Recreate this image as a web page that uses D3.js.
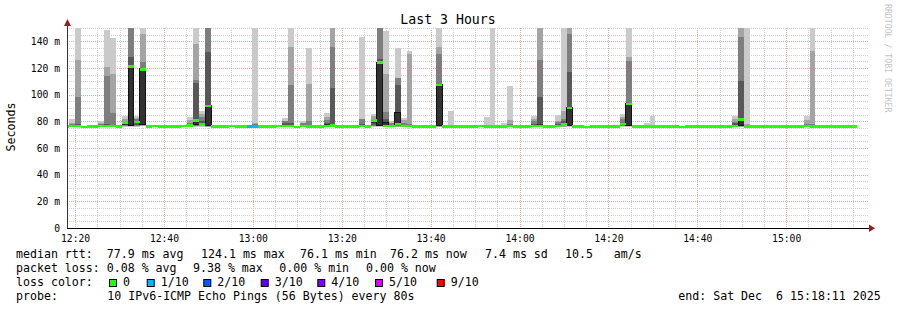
<!DOCTYPE html>
<html>
<head>
<meta charset="utf-8">
<script src="https://cdn.jsdelivr.net/npm/d3@7"></script>
<style>
  body { margin: 0; background: #fff; }
  svg { display: block; }
  text { font-family: "DejaVu Sans Mono", monospace; white-space: pre; }
</style>
</head>
<body>
<svg id="chart" width="897" height="310"></svg>
<script>
// time window of the graph and of the rrd steps
const startTime = new Date(2025, 11, 6, 12, 18, 11);
const endTime = new Date(2025, 11, 6, 15, 18, 11);
const firstStep = new Date(2025, 11, 6, 12, 17, 15);
const stepSeconds = 80;

// median rtt (ms) for every 80s step
const medianMs = [
  76.2, 76.5, 76.5, 75.9, 76.0, 76.2, 76.4, 76.6, 76.4, 76.2,
  79.0, 121.0, 79.5, 119.0, 76.2, 76.3, 76.2, 76.2, 76.1, 76.2,
  76.3, 76.8, 80.5, 77.5, 91.5, 76.2, 76.1, 76.2, 76.3, 76.2,
  76.2, 76.2, 76.2, 76.1, 76.2, 76.2, 76.3, 76.3, 76.3, 75.9,
  76.3, 76.2, 76.2, 76.1, 76.5, 76.8, 76.2, 76.1, 76.2, 76.2,
  76.3, 76.2, 80.5, 124.1, 76.6, 76.3, 77.8, 76.4, 76.4, 76.2,
  76.2, 76.1, 76.2, 107.3, 76.2, 76.2, 76.2, 76.1, 76.2, 76.2,
  76.3, 76.2, 76.2, 76.1, 76.2, 76.4, 76.2, 76.2, 76.1, 76.3,
  76.5, 76.2, 76.2, 76.5, 77.5, 90.0, 76.2, 76.2, 75.9, 76.1,
  76.2, 76.2, 76.2, 76.1, 77.8, 93.2, 76.2, 76.1, 76.1, 76.2,
  76.2, 76.2, 76.1, 76.2, 75.9, 76.2, 76.2, 76.1, 76.2, 76.2,
  76.2, 76.1, 76.2, 76.5, 81.3, 76.2, 76.2, 76.1, 76.2, 76.2,
  76.2, 76.1, 76.2, 76.2, 76.2, 76.3, 76.2, 76.2, 76.2, 76.1,
  76.2, 76.2, 76.2, 76.2
];

// steps where the 10 pings spread out (index into medianMs) and their sorted pings
const smokeStep = [1, 2, 6, 7, 8, 10, 11, 12, 13, 21, 22, 23, 24, 32, 37, 38, 40, 41, 44, 45,
  50, 52, 53, 54, 55, 56, 57, 58, 63, 65, 71, 72, 74, 75, 79, 80, 83, 84, 85, 94,
  95, 98, 99, 113, 114, 115, 125, 126];
const smokePings = [
  [75.9, 76.0, 76.1, 76.2, 76.3, 76.6, 77, 78, 79, 82],
  [75.9, 76, 76.1, 76.3, 76.4, 76.6, 78, 98.5, 126, 190],
  [75.9, 76, 76.1, 76.2, 76.3, 76.5, 77, 78, 79, 80.5],
  [75.9, 76, 76.2, 76.4, 76.5, 76.7, 78, 114, 121, 148.5],
  [75.9, 76, 76.1, 76.2, 76.3, 76.5, 77, 86, 115.5, 142.5],
  [76, 76.2, 76.5, 77, 77.5, 79, 79.8, 80.5, 81.8, 83.8],
  [75.9, 76.2, 76.5, 76.8, 77, 121, 128, 155, 170, 200],
  [76, 76.3, 76.8, 77.5, 78.5, 79.5, 80.5, 82, 82.5, 84],
  [76.5, 76.8, 77, 77.2, 77.5, 119.3, 119.5, 124.8, 145.5, 170],
  [75.9, 76.1, 76.4, 76.6, 76.8, 77, 78, 79, 81, 83],
  [76, 76.3, 76.6, 77, 77.5, 80.5, 108.5, 111, 138, 175],
  [76, 76.3, 76.8, 77.2, 77.4, 77.6, 80, 83, 85.5, 87.5],
  [75.9, 76.1, 76.5, 76.9, 77.2, 91.8, 132, 160, 180, 210],
  [76, 76.1, 76.2, 76.3, 76.4, 76.5, 77, 78, 79, 180],
  [75.9, 76, 76.2, 76.4, 76.6, 77, 78.5, 80, 80.5, 82.5],
  [75.9, 76, 76.2, 76.3, 76.4, 76.6, 78.5, 107, 136, 185],
  [75.9, 76, 76.1, 76.2, 76.3, 76.4, 77.5, 78.5, 79, 80.5],
  [75.9, 76, 76.1, 76.2, 76.3, 76.4, 77, 80.5, 108, 135],
  [75.9, 76.1, 76.4, 76.8, 77.2, 77.8, 79, 81, 83.5, 86],
  [75.9, 76, 76.2, 76.4, 76.5, 78, 105, 136, 160, 190],
  [75.9, 76, 76.1, 76.2, 76.3, 76.4, 78, 81.5, 81.8, 143.5],
  [76, 76.3, 76.7, 77.5, 79, 80.5, 81, 82, 84, 85.5],
  [76, 76.3, 76.6, 76.9, 77.2, 124.3, 126.8, 165, 180, 200],
  [75.9, 76, 76.2, 76.5, 76.7, 79, 82, 86.8, 115.5, 148],
  [75.9, 76, 76.1, 76.2, 76.3, 76.4, 77.5, 78.5, 79, 80.5],
  [75.9, 76, 76.5, 77, 78, 86.8, 107, 112.5, 112.6, 135],
  [75.9, 76, 76.1, 76.2, 76.3, 76.5, 77.5, 79, 81, 82.5],
  [75.9, 76, 76.1, 76.2, 76.3, 76.5, 77, 78, 130.5, 132.5],
  [75.9, 76.1, 76.5, 76.8, 77, 107.3, 107.5, 130.5, 136, 170],
  [75.9, 76, 76.1, 76.2, 76.3, 76.4, 76.6, 76.8, 77, 87.5],
  [75.9, 76, 76.1, 76.2, 76.3, 76.4, 76.6, 76.8, 77, 83.5],
  [75.9, 76, 76.1, 76.2, 76.3, 76.4, 76.6, 76.8, 77, 175],
  [75.9, 76, 76.1, 76.2, 76.3, 76.4, 76.6, 76.8, 77, 78.8],
  [75.9, 76, 76.1, 76.2, 76.4, 76.5, 77, 78, 81, 106.8],
  [75.9, 76, 76.1, 76.2, 76.3, 76.5, 78, 80, 81.5, 84.3],
  [75.9, 76, 76.2, 76.4, 76.6, 78, 98.5, 126, 165, 190],
  [75.9, 76, 76.1, 76.2, 76.4, 76.6, 78, 79.5, 80.5, 85],
  [75.9, 76.1, 76.5, 76.9, 77.2, 77.8, 80, 81.5, 88, 175],
  [75.9, 76.2, 76.5, 76.8, 77, 90.2, 116.8, 145.5, 165, 195],
  [75.9, 76.2, 76.6, 77, 77.5, 78, 79, 81.5, 83, 85.5],
  [75.9, 76.2, 76.5, 76.8, 77, 93.4, 93.8, 125, 128, 180],
  [75.9, 76, 76.1, 76.2, 76.3, 76.4, 76.6, 76.8, 77, 78.5],
  [75.9, 76, 76.1, 76.2, 76.3, 76.4, 76.6, 76.8, 77, 84.3],
  [75.9, 76, 76.2, 76.5, 76.8, 77.5, 79, 79.5, 82, 84.3],
  [75.9, 76.1, 76.4, 76.7, 77, 81.5, 110, 143.5, 165, 185],
  [75.9, 76, 76.1, 76.2, 76.3, 76.4, 76.6, 77, 78, 180],
  [75.9, 76, 76.1, 76.2, 76.3, 76.4, 77, 78, 81, 84.3],
  [75.9, 76, 76.1, 76.2, 76.3, 76.4, 77, 78, 133, 170]
];

// steps with lost pings (out of 10)
const lossStep = [31, 32];
const lossCount = [1, 1];

// legend of loss colours
const lossLegendLabels = ["0", "1/10", "2/10", "3/10", "4/10", "5/10", "9/10"];
const lossLegendColors = ["#26ff00", "#00b8ff", "#0059ff", "#5e00ff", "#7e00ff", "#dd00ff", "#ff0000"];
const lossColorByCount = {0: "#26ff00", 1: "#00b8ff", 2: "#0059ff", 3: "#5e00ff", 4: "#7e00ff", 5: "#dd00ff", 9: "#ff0000"};

const yTickValues = [0, 20, 40, 60, 80, 100, 120, 140];
const smokeColors = ["#cacaca", "#a4a4a4", "#7e7e7e", "#585858", "#323232"];

const plotLeft = 67, plotRight = 867, plotTop = 28, plotBottom = 228;

const x = d3.scaleTime().domain([startTime, endTime]).range([plotLeft, plotRight]);
const y = d3.scaleLinear().domain([0, 150]).range([plotBottom, plotTop]);

const svg = d3.select("#chart");
svg.append("rect").attr("width", 897).attr("height", 310).attr("fill", "#fff");

svg.append("defs").append("clipPath").attr("id", "plot")
  .append("rect").attr("x", plotLeft).attr("y", plotTop)
  .attr("width", plotRight - plotLeft).attr("height", plotBottom - plotTop);

// grid
const grid = svg.append("g").attr("shape-rendering", "crispEdges");
const minorTimes = d3.timeMinute.every(5).range(startTime, endTime);
grid.selectAll(".vg").data(minorTimes).enter().append("line")
  .attr("x1", d => Math.round(x(d)) + 0.5).attr("x2", d => Math.round(x(d)) + 0.5)
  .attr("y1", plotTop).attr("y2", plotBottom)
  .attr("stroke", d => d.getMinutes() % 20 === 0 ? "#f0a0a0" : "#cfcfcf")
  .attr("stroke-dasharray", "1,1");
const hGrid = d3.range(5, 151, 5);
grid.selectAll(".hg").data(hGrid).enter().append("line")
  .attr("x1", plotLeft).attr("x2", plotRight + 1)
  .attr("y1", d => Math.round(y(d)) + 0.5).attr("y2", d => Math.round(y(d)) + 0.5)
  .attr("stroke", d => d % 20 === 0 ? "#f0a0a0" : "#cfcfcf")
  .attr("stroke-dasharray", "1,1");

// data
const plot = svg.append("g").attr("clip-path", "url(#plot)").attr("shape-rendering", "crispEdges");
const stepStart = i => new Date(firstStep.getTime() + i * stepSeconds * 1000);
const stepEnd = i => new Date(firstStep.getTime() + (i + 1) * stepSeconds * 1000);

smokeStep.forEach((s, n) => {
  const p = smokePings[n];
  const x0 = x(stepStart(s)), x1 = x(stepEnd(s));
  for (let j = 0; j < 5; j++) {
    const yt = y(p[9 - j]), yb = y(p[j]);
    const r = plot.append("rect")
      .attr("x", x0).attr("width", x1 - x0)
      .attr("y", yt).attr("height", yb - yt)
      .attr("fill", smokeColors[j]);
    if (j === 4 && yb - yt > 3) {
      r.attr("stroke", "#111").attr("stroke-width", 1);
    }
  }
});

const lossOf = i => {
  const k = lossStep.indexOf(i);
  return k < 0 ? 0 : lossCount[k];
};

plot.selectAll(".med").data(medianMs).enter().append("rect")
  .attr("x", (d, i) => x(stepStart(i)))
  .attr("width", (d, i) => x(stepEnd(i)) - x(stepStart(i)))
  .attr("y", d => y(d) - 1.2)
  .attr("height", 2.4)
  .attr("fill", (d, i) => lossColorByCount[lossOf(i)]);

// axes
svg.append("line").attr("x1", plotLeft + 0.5).attr("x2", plotLeft + 0.5)
  .attr("y1", plotBottom).attr("y2", 22).attr("stroke", "#333");
svg.append("line").attr("x1", plotLeft).attr("x2", 871)
  .attr("y1", plotBottom + 0.5).attr("y2", plotBottom + 0.5).attr("stroke", "#000");
svg.append("path").attr("d", "M64,26 L71,26 L67.5,19 Z").attr("fill", "#9b1c1c");
svg.append("path").attr("d", "M869,224.5 L869,232 L875,228.3 Z").attr("fill", "#9b1c1c");

// tick labels
svg.selectAll(".yl").data(yTickValues).enter().append("text")
  .attr("x", 60).attr("y", d => y(d) + 3.5)
  .attr("text-anchor", "end").attr("font-size", "9.7px").attr("fill", "#000")
  .text(d => d === 0 ? "0" : d + " m");

const majorTimes = d3.timeMinute.every(20).range(startTime, endTime);
const fmt = d3.timeFormat("%H:%M");
svg.selectAll(".xl").data(majorTimes).enter().append("text")
  .attr("x", d => x(d) + 0.5).attr("y", 241.5)
  .attr("text-anchor", "middle").attr("font-size", "9.7px").attr("fill", "#000")
  .text(fmt);

// titles
svg.append("text").attr("x", 448).attr("y", 24).attr("text-anchor", "middle")
  .attr("font-size", "13.2px").text("Last 3 Hours");
svg.append("text").attr("transform", "translate(15,127) rotate(-90)")
  .attr("text-anchor", "middle").attr("font-size", "11.6px").text("Seconds");
svg.append("text").attr("transform", "translate(885,4) rotate(90)")
  .attr("font-size", "8.2px").attr("fill", "#c4c4c4").text("RRDTOOL / TOBI OETIKER");

// legend
const legend = svg.append("g").attr("font-size", "11.6px").attr("fill", "#000");
const put = (tx, ty, s) => legend.append("text").attr("x", tx).attr("y", ty).text(s);
put(16, 258, "median rtt:  77.9 ms avg");
put(201, 258, "124.1 ms max");
put(300, 258, "76.1 ms min");
put(390, 258, "76.2 ms now");
put(485, 258, "7.4 ms sd");
put(565, 258, "10.5   am/s");

put(16, 272, "packet loss: 0.08 % avg");
put(193, 272, "9.38 % max");
put(279.3, 272, "0.00 % min");
put(366, 272, "0.00 % now");

put(16, 286, "loss color:");
const boxX = [109, 146.7, 203.3, 260.7, 317.3, 375, 436.7];
lossLegendLabels.forEach((lab, i) => {
  legend.append("rect").attr("x", boxX[i] + 0.5).attr("y", 279.5)
    .attr("width", 7).attr("height", 7)
    .attr("fill", lossLegendColors[i]).attr("stroke", "#000").attr("stroke-width", 1);
  put(boxX[i] + 14, 286, lab);
});

put(16, 300, "probe:");
put(107.3, 300, "10 IPv6-ICMP Echo Pings (56 Bytes) every 80s");
put(678.3, 300, "end: Sat Dec  6 15:18:11 2025");
</script>
</body>
</html>
